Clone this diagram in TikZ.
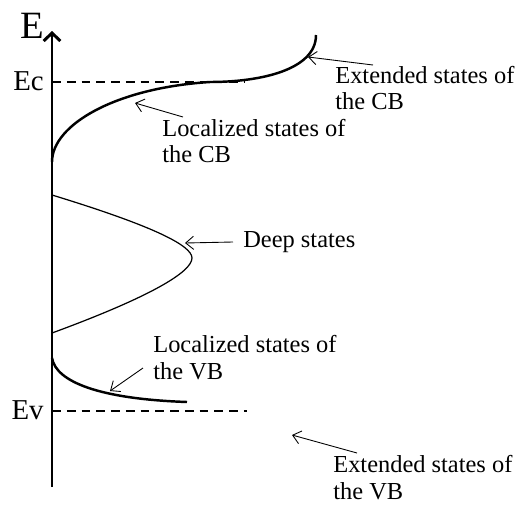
\documentclass[tikz,border=0pt]{standalone}
\usepackage{fontspec}
\setmainfont{Liberation Serif}
\usetikzlibrary{arrows.meta}

\begin{document}
\begin{tikzpicture}[x=0.02cm, y=-0.02cm,
    band/.style={line width=1.4pt},
    level/.style={line width=0.9pt, dash pattern=on 5pt off 3.4pt},
    pointer/.style={line width=0.5pt, -{Straight Barb[length=4.5pt,width=7.5pt]}},
    note/.style={inner sep=0pt, anchor=west, align=left, font=\fontsize{13.9}{15.3}\selectfont},
    edge/.style={inner sep=0pt, anchor=east, font=\fontsize{16.4}{16.4}\selectfont}]
    \useasboundingbox (0,0) rectangle (517,504);

    % Energy axis
    \coordinate (axisbot) at (52,487);
    \coordinate (axistop) at (52,31);
    \draw[line width=1.7pt, -{Straight Barb[length=4.5pt,width=9.5pt]}] (axisbot) -- (axistop);
    \node[inner sep=0pt, font=\fontsize{22}{22}\selectfont] (elbl) at (32,26) {E};

    % Band edges
    \coordinate (ec) at (52,82);
    \coordinate (ecend) at (245,82);
    \coordinate (ev) at (52,411);
    \coordinate (evend) at (247,411);
    \draw[level] (ec) -- (ecend);
    \draw[level] (ev) -- (evend);
    \node[edge] (eclbl) at (44,81) {Ec};
    \node[edge] (evlbl) at (44,410) {Ev};

    % Conduction band tail
    \draw[band] (52,162) .. controls (52,125) and (115,88) .. (210,82)
        .. controls (260,82) and (316,70) .. (316,35);

    % Deep states
    \draw[line width=0.7pt] (52,195) .. controls (150,225) and (192,245) .. (192,258)
        .. controls (192,272) and (150,297) .. (52,333);

    % Valence band tail
    \draw[band] (52,358) .. controls (56,382) and (100,399) .. (187,402);

    % Labels
    \node[note] (extcb) at (335,88) {Extended states of\\the CB};
    \node[note] (loccb) at (162,141) {Localized states of\\the CB};
    \node[note] (deep) at (243,242) {Deep states};
    \node[note] (locvb) at (153,358) {Localized states of\\the VB};
    \node[note] (extvb) at (333,478) {Extended states of\\the VB};

    % Pointers
    \coordinate (extcbtail) at (373,65);
    \coordinate (extcbtip) at (308,57);
    \coordinate (loccbtail) at (183,117);
    \coordinate (loccbtip) at (135,103);
    \coordinate (deeptail) at (233,242);
    \coordinate (deeptip) at (185,243);
    \coordinate (locvbtail) at (143,368);
    \coordinate (locvbtip) at (110,391);
    \coordinate (extvbtail) at (357,453);
    \coordinate (extvbtip) at (292,435);
    \draw[pointer] (extcbtail) -- (extcbtip);
    \draw[pointer] (loccbtail) -- (loccbtip);
    \draw[pointer] (deeptail) -- (deeptip);
    \draw[pointer] (locvbtail) -- (locvbtip);
    \draw[pointer] (extvbtail) -- (extvbtip);
\end{tikzpicture}
\end{document}
